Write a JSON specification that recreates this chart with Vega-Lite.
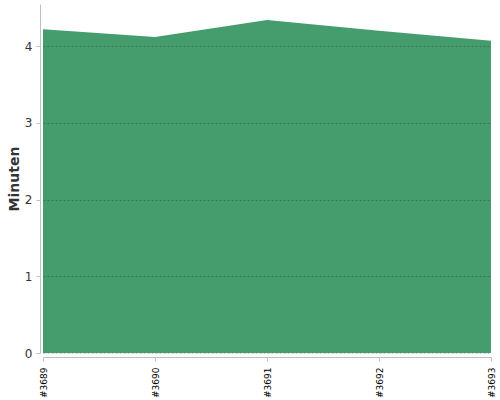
{
  "$schema": "https://vega.github.io/schema/vega-lite/v6.json",
  "width": 448,
  "height": 349,
  "autosize": {"type": "none"},
  "padding": {"left": 43, "top": 4, "right": 9, "bottom": 47},
  "data": {
    "values": [
      {"build": "#3689", "minuten": 4.22},
      {"build": "#3690", "minuten": 4.12},
      {"build": "#3691", "minuten": 4.34},
      {"build": "#3692", "minuten": 4.2},
      {"build": "#3693", "minuten": 4.07}
    ]
  },
  "mark": {"type": "area", "color": "#459c6c", "opacity": 1},
  "encoding": {
    "x": {
      "field": "build",
      "type": "ordinal",
      "scale": {"type": "point", "padding": 0},
      "title": null,
      "axis": {
        "labelAngle": -90,
        "labelAlign": "right",
        "labelBaseline": "middle",
        "labelFont": "DejaVu Sans",
        "labelFontSize": 9,
        "labelColor": "#000000",
        "labelPadding": 6,
        "domainColor": "#c0c0c0",
        "tickColor": "#c0c0c0",
        "tickSize": 4,
        "offset": 4,
        "grid": false
      }
    },
    "y": {
      "field": "minuten",
      "type": "quantitative",
      "title": "Minuten",
      "scale": {"domain": [0, 4.55], "nice": false},
      "axis": {
        "values": [0, 1, 2, 3, 4],
        "offset": 3,
        "labelFont": "DejaVu Sans",
        "labelFontSize": 12,
        "labelColor": "#333333",
        "labelPadding": 4,
        "domainColor": "#c0c0c0",
        "tickColor": "#c0c0c0",
        "tickSize": 4,
        "titleFont": "DejaVu Sans",
        "titleFontSize": 14,
        "titleFontWeight": "bold",
        "titleColor": "#333333",
        "titlePadding": 3,
        "grid": true,
        "gridColor": "#000000",
        "gridOpacity": 0.22,
        "gridDash": [2, 2],
        "zindex": 1
      }
    }
  },
  "config": {
    "view": {"stroke": null},
    "background": "#ffffff"
  }
}
